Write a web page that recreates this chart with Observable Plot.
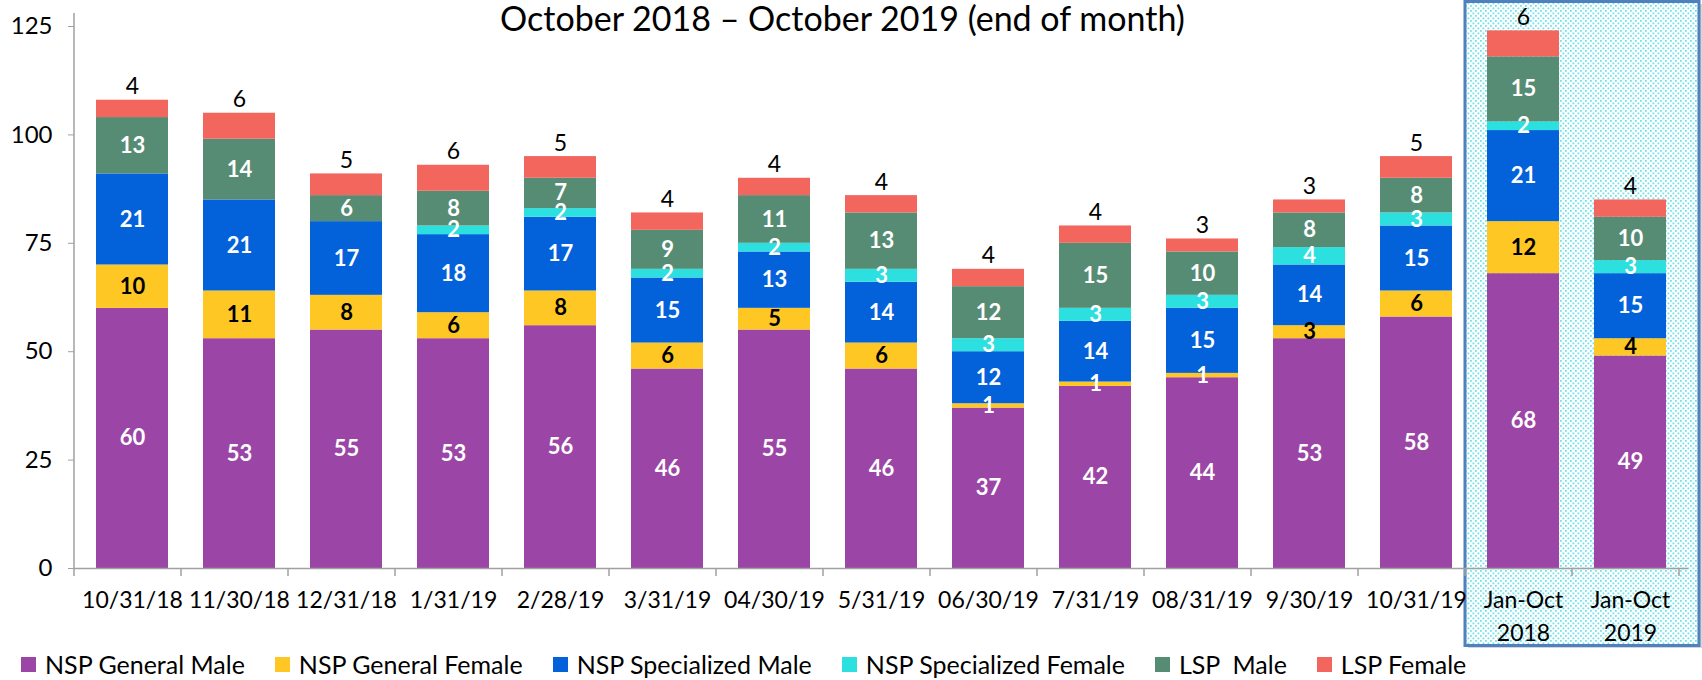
<!DOCTYPE html>
<html>
<head>
<meta charset="utf-8">
<script src="https://cdn.jsdelivr.net/npm/d3@7"></script>
<script src="https://cdn.jsdelivr.net/npm/@observablehq/plot@0.6"></script>
<style>
  html, body { margin: 0; padding: 0; background: #fff; }
  #chart { width: 1702px; font-family: Lato, "Open Sans", sans-serif; }
  .legend { display: flex; align-items: center; height: 32px; padding-left: 21px; gap: 30px; font-size: 25px; color: #000; }
  .legend .item { display: flex; align-items: center; white-space: pre; }
  .legend .sw { width: 15px; height: 15px; margin-right: 9px; }
</style>
</head>
<body>
<div id="chart"></div>
<script>
const title = "October 2018 \u2013 October 2019 (end of month)";
const categories = ["10/31/18","11/30/18","12/31/18","1/31/19","2/28/19","3/31/19","04/30/19","5/31/19","06/30/19","7/31/19","08/31/19","9/30/19","10/31/19","Jan-Oct 2018","Jan-Oct 2019"];
const seriesNames = ["NSP General Male","NSP General Female","NSP Specialized Male","NSP Specialized Female","LSP  Male","LSP Female"];
const seriesColors = ["#9b46a6","#fec723","#0362da","#2ce0e0","#578c74","#f2665e"];
const nspGeneralMale       = [60,53,55,53,56,46,55,46,37,42,44,53,58,68,49];
const nspGeneralFemale     = [10,11,8,6,8,6,5,6,1,1,1,3,6,12,4];
const nspSpecializedMale   = [21,21,17,18,17,15,13,14,12,14,15,14,15,21,15];
const nspSpecializedFemale = [0,0,0,2,2,2,2,3,3,3,3,4,3,2,3];
const lspMale              = [13,14,6,8,7,9,11,13,12,15,10,8,8,15,10];
const lspFemale            = [4,6,5,6,5,4,4,4,4,4,3,3,5,6,4];
const yTicks = [0,25,50,75,100,125];
const highlighted = ["Jan-Oct 2018","Jan-Oct 2019"];

const seriesValues = [nspGeneralMale, nspGeneralFemale, nspSpecializedMale, nspSpecializedFemale, lspMale, lspFemale];
const data = [];
categories.forEach((c, i) => {
  seriesNames.forEach((s, j) => data.push({category: c, series: s, value: seriesValues[j][i]}));
});

const labelFor = (name) => (d) => (d.series === name && d.value > 0 ? String(d.value) : null);
const stackOpts = {x: "category", y: "value", z: "series", order: null};

const plot = Plot.plot({
  width: 1702,
  height: 648,
  marginLeft: 74,
  marginRight: 14,
  marginTop: 13,
  marginBottom: 80,
  style: {fontFamily: "Lato, 'Open Sans', sans-serif", fontSize: "23px", color: "#000", background: "transparent"},
  x: {domain: categories, paddingInner: 0.33, paddingOuter: 0.165, label: null},
  y: {domain: [0, 128], label: null},
  color: {domain: seriesNames, range: seriesColors},
  marks: [
    Plot.barY(data, Plot.stackY({...stackOpts, fill: "series"})),
    Plot.ruleY([0], {stroke: "#a0a0a0", strokeWidth: 1.5}),
    Plot.axisY({ticks: yTicks, tickSize: 6, tickPadding: 16, fontSize: 24, stroke: "#a0a0a0", label: null}),
    Plot.axisX({tickSize: 0, tickPadding: 17, fontSize: 23, lineHeight: 1.4, tickFormat: d => d.replace(" ", "\n"), label: null}),
    // inside labels
    Plot.text(data, Plot.stackY({...stackOpts, text: labelFor("NSP General Male"), fill: "white", fontWeight: "bold", fontSize: 22})),
    Plot.text(data, Plot.stackY({...stackOpts, text: labelFor("NSP General Female"), fill: d => d.value <= 1 ? "white" : "black", fontWeight: "bold", fontSize: 22})),
    Plot.text(data, Plot.stackY({...stackOpts, text: labelFor("NSP Specialized Male"), fill: "white", fontWeight: "bold", fontSize: 22})),
    Plot.text(data, Plot.stackY({...stackOpts, text: labelFor("NSP Specialized Female"), fill: "white", fontWeight: "bold", fontSize: 22})),
    Plot.text(data, Plot.stackY({...stackOpts, text: labelFor("LSP  Male"), fill: "white", fontWeight: "bold", fontSize: 22})),
    // top labels
    Plot.text(data, Plot.stackY2({...stackOpts, text: labelFor("LSP Female"), fill: "black", fontSize: 23, lineAnchor: "bottom", dy: -6})),
    Plot.text([title], {frameAnchor: "top", dx: -39, dy: 7, lineAnchor: "middle", fontSize: 34, fill: "black"})
  ]
});

// decorations drawn with the plot's own scales
const svg = d3.select(plot.tagName.toLowerCase() === "svg" ? plot : plot.querySelector("svg"));
const xs = plot.scale("x");
const ys = plot.scale("y");
const step = xs.step ?? (xs.range[1] - xs.range[0]) / categories.length;
const r0 = xs.range[0];
const y0 = ys.apply(0);
const yTop = ys.range[1];

const defs = svg.insert("defs", ":first-child");
const pat = defs.append("pattern").attr("id", "dots").attr("width", 5).attr("height", 5).attr("patternUnits", "userSpaceOnUse");
pat.append("rect").attr("width", 5).attr("height", 5).attr("fill", "#ffffff");
pat.append("rect").attr("x", 0).attr("y", 0).attr("width", 1.8).attr("height", 1.8).attr("fill", "#72e2ea");
pat.append("rect").attr("x", 2.5).attr("y", 2.5).attr("width", 1.8).attr("height", 1.8).attr("fill", "#72e2ea");

const boxLeft = r0 + categories.indexOf(highlighted[0]) * step;
const boxG = svg.insert("g", "defs + *");
boxG.append("rect")
  .attr("x", boxLeft + 3).attr("y", 4)
  .attr("width", 1700 - boxLeft).attr("height", 644)
  .attr("fill", "#bbbbbb").attr("opacity", 0.6);
boxG.append("rect")
  .attr("x", boxLeft).attr("y", 1.5)
  .attr("width", 1699 - boxLeft).attr("height", 644)
  .attr("fill", "url(#dots)")
  .attr("stroke", "#5080bd").attr("stroke-width", 3);

const g = svg.append("g").attr("stroke", "#a0a0a0").attr("stroke-width", 1.5);
g.append("line").attr("x1", r0).attr("x2", r0).attr("y1", yTop).attr("y2", y0);
for (let i = 0; i <= categories.length; i++) {
  const x = r0 + i * step;
  g.append("line").attr("x1", x).attr("x2", x).attr("y1", y0).attr("y2", y0 + 8);
}

document.getElementById("chart").appendChild(plot);

// legend
const legend = d3.select("#chart").append("div").attr("class", "legend");
seriesNames.forEach((s, i) => {
  const it = legend.append("div").attr("class", "item");
  it.append("div").attr("class", "sw").style("background", seriesColors[i]);
  it.append("span").text(s);
});
</script>
</body>
</html>
